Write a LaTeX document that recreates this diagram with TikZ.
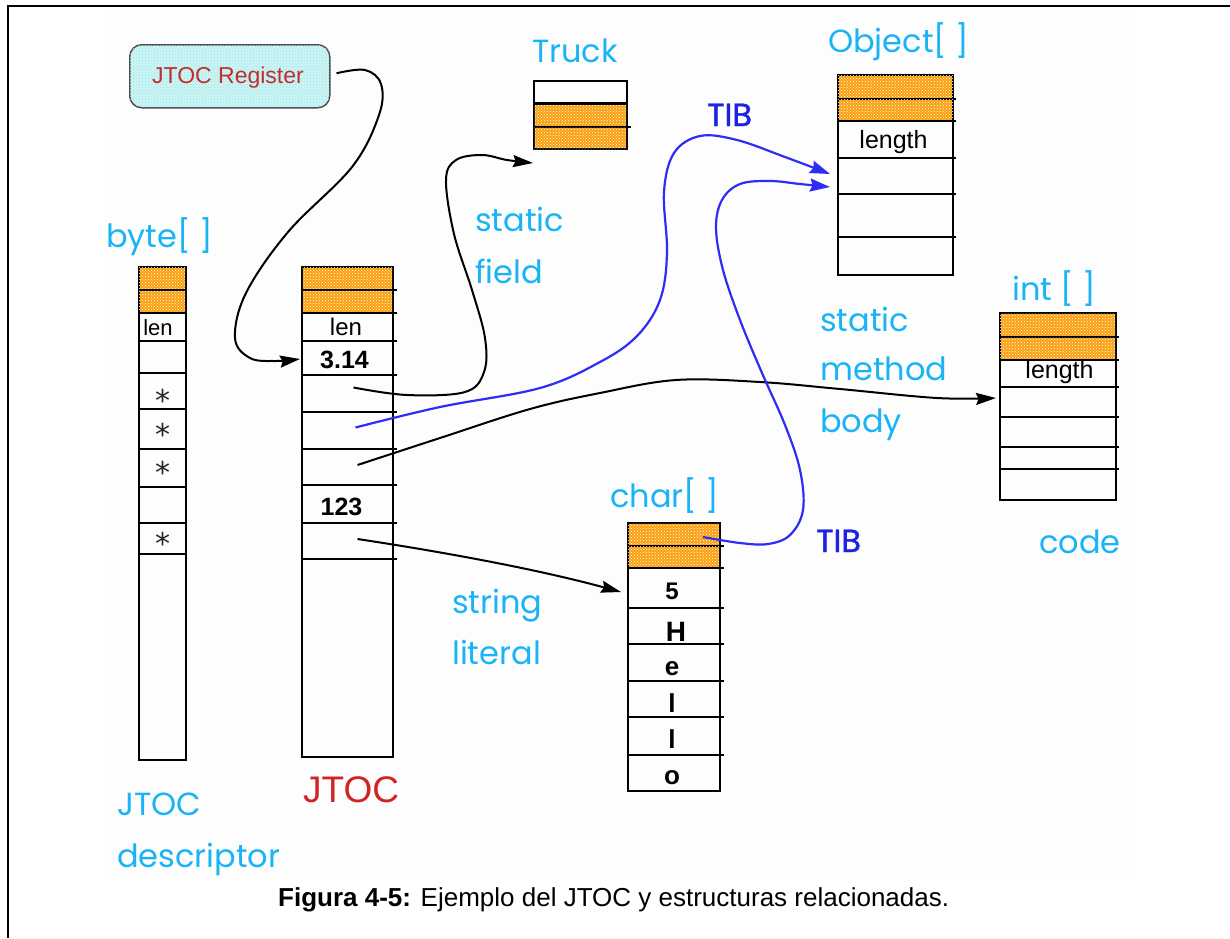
\documentclass[tikz,border=0pt]{standalone}
\usepackage{fontspec}
\setmainfont{Liberation Sans}
\newfontfamily\handfont{Poppins}
\newfontfamily\tibfont[FakeBold=1.2]{Poppins}
\newfontfamily\starfont{DejaVu Sans}
\usetikzlibrary{arrows.meta,patterns,calc}

\definecolor{skyblue}{RGB}{25,180,245}
\definecolor{tibblue}{RGB}{30,35,225}
\definecolor{linkblue}{RGB}{45,45,245}
\definecolor{jtocred}{RGB}{210,35,35}
\definecolor{regred}{RGB}{195,45,45}
\definecolor{hdrorange}{RGB}{250,160,15}
\definecolor{regcyan}{RGB}{205,245,245}
\definecolor{regdots}{RGB}{150,225,225}
\definecolor{panelgray}{RGB}{253,253,253}

\begin{document}
\begin{tikzpicture}[x=1pt,y=-1pt,
  cell/.style={draw=black,line width=1.6pt,inner sep=0pt,outer sep=0pt,anchor=north west},
  hdr/.style={cell,fill=hdrorange,postaction={pattern=crosshatch dots,pattern color=white}},
  sep/.style={line width=1.6pt},
  hand/.style={font={\handfont\fontsize{32}{38}\selectfont},text=skyblue,inner sep=0pt,anchor=base west},
  tib/.style={font={\tibfont\fontsize{32}{38}\selectfont},text=tibblue,inner sep=0pt,anchor=base west},
  celltxt/.style={inner sep=0pt,anchor=base,font={\fontsize{24}{28}\selectfont}},
  boldtxt/.style={inner sep=0pt,anchor=base,font={\bfseries\fontsize{26}{30}\selectfont}},
  startxt/.style={inner sep=0pt,anchor=base,text=black!85,font={\starfont\fontsize{30}{32}\selectfont}},
  conn/.style={line width=2pt,black,-{Stealth[length=20pt,width=12pt,inset=2.5pt]}},
  tiblink/.style={line width=2.2pt,linkblue,-{Stealth[length=20pt,width=13pt,inset=2.5pt]}},
]
\useasboundingbox (0,0) rectangle (1230,938);
\fill[white] (0,0) rectangle (1230,938);
\fill[panelgray] (105,15) rectangle (1135,879);
% page frame (top and left rules)
\draw[line width=2pt] (1230,6) -- (7.5,6) -- (7.5,938);

% ---------- JTOC register ----------
\node[draw=black!70,line width=1.5pt,rounded corners=12pt,fill=regcyan,
      postaction={pattern=crosshatch dots,pattern color=regdots},
      minimum width=200pt,minimum height=63pt,inner sep=0pt,anchor=north west] (reg) at (129,44) {};
\node[inner sep=0pt,anchor=base,text=regred,font={\fontsize{23}{27}\selectfont}] (regtxt) at (228,83) {JTOC Register};

% ---------- byte[] (JTOC descriptor) ----------
\node[hdr,minimum width=47pt,minimum height=23pt] (byte-1) at (139,267) {};
\node[hdr,minimum width=47pt,minimum height=23pt] (byte-2) at (139,290) {};
\foreach \i/\t/\b in {3/313/341,4/341/373,5/373/409,6/409/449,7/449/487,8/487/523,9/523/554,10/554/760}
  \node[cell,minimum width=47pt,minimum height={(\b-\t)*1pt}] (byte-\i) at (139,\t) {};
\node[celltxt,font={\fontsize{22}{26}\selectfont}] (byte-len) at (158,335) {len};
\node[startxt] (star-1) at (162.5,411.5) {*};
\node[startxt] (star-2) at (162.5,445.5) {*};
\node[startxt] (star-3) at (162.5,483.5) {*};
\node[startxt] (star-4) at (162.5,554.5) {*};

% ---------- JTOC ----------
\node[hdr,minimum width=91pt,minimum height=23pt] (jtoc-1) at (302,267) {};
\node[hdr,minimum width=91pt,minimum height=23pt] (jtoc-2) at (302,290) {};
\foreach \i/\t/\b in {3/313/341,4/341/375,5/375/412,6/412/449,7/449/485,8/485/523,9/523/559,10/559/757}
  \node[cell,minimum width=91pt,minimum height={(\b-\t)*1pt}] (jtoc-\i) at (302,\t) {};
\foreach \i in {1,...,9}
  \draw[sep] (jtoc-\i.south east) -- ++(4,0);
\node[celltxt] (jtoc-len) at (346,335) {len};
\node[boldtxt,font={\bfseries\fontsize{25}{29}\selectfont}] (jtoc-pi) at (344.5,368) {3.14};
\node[boldtxt,font={\bfseries\fontsize{25}{29}\selectfont}] (jtoc-int) at (341.5,515) {123};

% ---------- Truck ----------
\node[cell,minimum width=93pt,minimum height=22pt] (truck-1) at (534,81) {};
\node[hdr,minimum width=93pt,minimum height=24pt] (truck-2) at (534,103) {};
\node[hdr,minimum width=93pt,minimum height=22pt] (truck-3) at (534,127) {};
\draw[line width=3pt] (truck-1.south west) -- (truck-1.south east);
\draw[sep] (truck-2.south east) -- ++(4,0);

% ---------- Object[] ----------
\node[hdr,minimum width=115pt,minimum height=24pt] (obj-1) at (838,75) {};
\node[hdr,minimum width=115pt,minimum height=22pt] (obj-2) at (838,99) {};
\foreach \i/\t/\b in {3/121/158,4/158/194,5/194/237,6/237/275}
  \node[cell,minimum width=115pt,minimum height={(\b-\t)*1pt}] (obj-\i) at (838,\t) {};
\foreach \i in {1,...,5}
  \draw[sep] (obj-\i.south east) -- ++(3,0);
\node[celltxt,font={\fontsize{25}{29}\selectfont}] (obj-len) at (893.5,148) {length};

% ---------- int[] ----------
\node[hdr,minimum width=116pt,minimum height=24pt] (int-1) at (1000,313) {};
\node[hdr,minimum width=116pt,minimum height=23pt] (int-2) at (1000,337) {};
\foreach \i/\t/\b in {3/360/387,4/387/417,5/417/447,6/447/469,7/469/500}
  \node[cell,minimum width=116pt,minimum height={(\b-\t)*1pt}] (int-\i) at (1000,\t) {};
\foreach \i in {1,...,6}
  \draw[sep] (int-\i.south east) -- ++(3,0);
\node[celltxt,font={\fontsize{25}{29}\selectfont}] (int-len) at (1059.5,378) {length};

% ---------- char[] ----------
\node[hdr,minimum width=92pt,minimum height=23pt] (char-1) at (628,523) {};
\node[hdr,minimum width=92pt,minimum height=22pt] (char-2) at (628,546) {};
\foreach \i/\t/\b in {3/568/608,4/608/644,5/644/681,6/681/717,7/717/755,8/755/791}
  \node[cell,minimum width=92pt,minimum height={(\b-\t)*1pt}] (char-\i) at (628,\t) {};
\foreach \i in {1,...,7}
  \draw[sep] (char-\i.south east) -- ++(4,0);
\node[boldtxt,font={\bfseries\fontsize{24}{28}\selectfont}] (ch-5) at (672,599) {5};
\node[boldtxt,font={\bfseries\fontsize{28}{32}\selectfont}] (ch-H) at (676,641) {H};
\node[boldtxt] (ch-e) at (672,675) {e};
\node[boldtxt] (ch-l1) at (672,712) {l};
\node[boldtxt] (ch-l2) at (672,748) {l};
\node[boldtxt] (ch-o) at (672,784) {o};

% ---------- connector end points ----------
\coordinate (s-reg) at ($(reg.east)+(6,-3)$);
\coordinate (e-reg) at ($(jtoc-4.west)+(-2,1)$);
\coordinate (s-field) at ($(jtoc-5.center)+(6,-6)$);
\coordinate (e-truck) at ($(truck-3.south west)+(-1,14)$);
\coordinate (s-tib) at ($(jtoc-6.center)+(8,-3)$);
\coordinate (e-tib1) at ($(obj-4.west)+(-8,-2)$);
\coordinate (s-method) at ($(jtoc-7.center)+(10,-2)$);
\coordinate (e-int) at ($(int-4.west)+(-4,-4)$);
\coordinate (s-string) at ($(jtoc-9.center)+(10,-2)$);
\coordinate (e-string) at ($(char-3.west)+(-7,4)$);
\coordinate (s-chartib) at ($(char-1.center)+(29,2.5)$);
\coordinate (e-tib2) at ($(obj-4.west)+(-8,11)$);

% ---------- connectors ----------
\draw[conn] plot[smooth,tension=0.6] coordinates {(s-reg) (365,70) (381,84) (379,115) (352,167) (288,232) (246,293) (235,338) (250,358) (275,361) (e-reg)};
\draw[conn] plot[smooth,tension=0.6] coordinates {(s-field) (407,395) (465,392) (484,372) (485,338) (472,290) (454,234) (446,180) (456,160) (482,155) (507,160) (e-truck)};
\draw[conn] plot[smooth,tension=0.6] coordinates {(s-method) (440,438) (530,409) (600,393) (676,380) (760,382) (840,389) (937,398) (e-int)};
\draw[conn] (s-string) .. controls (450,553) and (540,570) .. (e-string);
\draw[tiblink] plot[smooth,tension=0.6] coordinates {(s-tib) (440,407) (540,388) (600,362) (637,336) (660,300) (667,253) (664,192) (674,153) (700,136) (737,140) (785,157) (e-tib1)};
\draw[tiblink] plot[smooth,tension=0.6] coordinates {(s-chartib) (740,543) (768,544) (790,535) (803,510) (800,470) (785,425) (762,373) (740,320) (723,270) (716,228) (722,200) (740,184) (770,181) (800,184) (e-tib2)};

% ---------- labels ----------
\node[hand] (lbl-byte) at (106,247) {byte[ ]};
\node[hand] (lbl-truck) at (532,62) {Truck};
\node[hand] (lbl-object) at (828,52) {Object[ ]};
\node[tib] (lbl-tib1) at (707,126) {TIB};
\node[hand] (lbl-static1) at (475,231) {static};
\node[hand] (lbl-field) at (475,283) {field};
\node[hand] (lbl-static2) at (820,331) {static};
\node[hand] (lbl-method) at (820,380) {method};
\node[hand] (lbl-body) at (820,432) {body};
\node[hand] (lbl-int) at (1012,300) {int [ ]};
\node[hand] (lbl-char) at (610,507) {char[ ]};
\node[tib] (lbl-tib2) at (816,552) {TIB};
\node[hand] (lbl-code) at (1039,553) {code};
\node[hand] (lbl-string) at (452,613) {string};
\node[hand] (lbl-literal) at (452,664) {literal};
\node[hand] (lbl-jtocd) at (117,815) {JTOC};
\node[hand] (lbl-desc) at (117,867) {descriptor};
\node[inner sep=0pt,anchor=base west,text=jtocred,font={\fontsize{37}{42}\selectfont}] (lbl-jtoc) at (303,802) {JTOC};

% ---------- caption ----------
\node[inner sep=0pt,anchor=base west,font={\fontsize{26}{30}\selectfont}] (caption) at (278,906)
  {\textbf{Figura 4-5:} Ejemplo del JTOC y estructuras relacionadas.};
\end{tikzpicture}
\end{document}
